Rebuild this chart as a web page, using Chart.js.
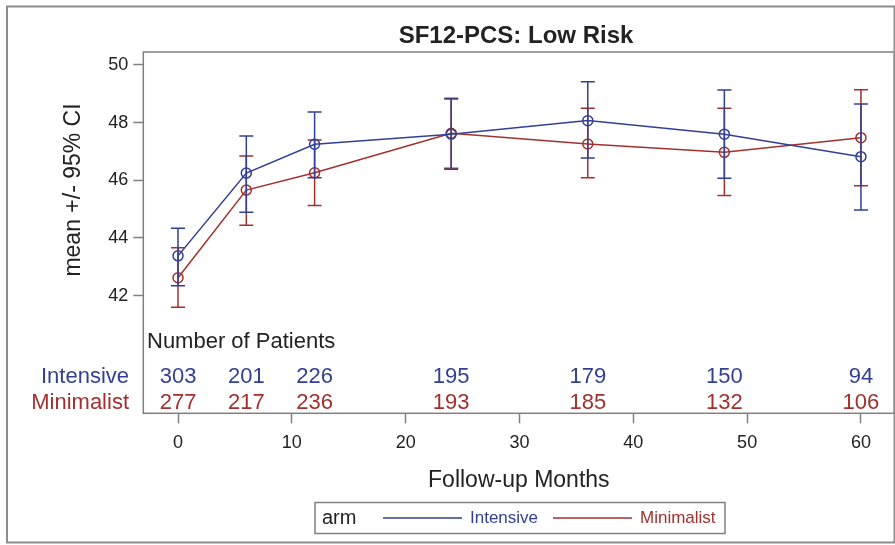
<!DOCTYPE html>
<html>
<head>
<meta charset="utf-8">
<script src="https://cdn.jsdelivr.net/npm/chart.js@4.4.0/dist/chart.umd.min.js"></script>
<style>
  body { margin: 0; background: #fff; }
  canvas { display: block; }
</style>
</head>
<body>
<canvas id="chart" width="895" height="545"></canvas>
<script>
// Follow-up months and the values
var months = [0, 6, 12, 24, 36, 48, 60];
var intensiveMean = [43.38, 46.25, 47.25, 47.6, 48.07, 47.6, 46.82];
var intensiveLower = [42.34, 44.89, 46.09, 46.38, 46.77, 46.07, 44.97];
var intensiveUpper = [44.34, 47.54, 48.37, 48.82, 49.42, 49.13, 48.65];
var minimalistMean = [42.62, 45.66, 46.26, 47.63, 47.26, 46.97, 47.48];
var minimalistLower = [41.6, 44.44, 45.13, 46.42, 46.09, 45.47, 45.81];
var minimalistUpper = [43.66, 46.84, 47.4, 48.85, 48.5, 48.5, 49.14];
var intensiveN = [303, 201, 226, 195, 179, 150, 94];
var minimalistN = [277, 217, 236, 193, 185, 132, 106];
var xTicks = [0, 10, 20, 30, 40, 50, 60];
var yTicks = [42, 44, 46, 48, 50];

var blue = "#323f96";
var red = "#a2302e";
var frameColor = "#808080";
var textColor = "#222222";

Chart.defaults.font.family = "'Liberation Sans', Arial, sans-serif";

function toPoints(xs, ys) {
  var pts = [];
  for (var i = 0; i < xs.length; i++) {
    pts.push({ x: xs[i], y: ys[i] });
  }
  return pts;
}

var lowers = [intensiveLower, minimalistLower];
var uppers = [intensiveUpper, minimalistUpper];
var counts = [intensiveN, minimalistN];

// Error bars drawn under each dataset's line
var errorBars = {
  id: "errorBars",
  beforeDatasetDraw: function (chart, args) {
    var i = args.index;
    var ds = chart.data.datasets[i];
    var xs = chart.scales.x;
    var ys = chart.scales.y;
    var ctx = chart.ctx;
    ctx.save();
    ctx.strokeStyle = ds.borderColor;
    ctx.lineWidth = 1.5;
    for (var j = 0; j < months.length; j++) {
      var px = xs.getPixelForValue(months[j]);
      var lo = ys.getPixelForValue(lowers[i][j]);
      var hi = ys.getPixelForValue(uppers[i][j]);
      ctx.beginPath();
      ctx.moveTo(px, lo);
      ctx.lineTo(px, hi);
      ctx.moveTo(px - 7, lo);
      ctx.lineTo(px + 7, lo);
      ctx.moveTo(px - 7, hi);
      ctx.lineTo(px + 7, hi);
      ctx.stroke();
    }
    ctx.restore();
  }
};

// Frame, titles, patient table and legend
var decorations = {
  id: "decorations",
  afterDraw: function (chart) {
    var ctx = chart.ctx;
    var area = chart.chartArea;
    var xs = chart.scales.x;
    var datasets = chart.data.datasets;
    ctx.save();

    // plot frame
    ctx.strokeStyle = frameColor;
    ctx.lineWidth = 1.5;
    ctx.strokeRect(area.left, area.top, area.right - area.left, area.bottom - area.top);

    // outer border
    ctx.lineWidth = 2;
    ctx.strokeStyle = "#8c8c8c";
    ctx.strokeRect(7, 6.5, 887.5, 536);

    // title
    ctx.fillStyle = textColor;
    ctx.font = "bold 24px 'Liberation Sans', Arial, sans-serif";
    ctx.textAlign = "center";
    ctx.textBaseline = "alphabetic";
    ctx.fillText("SF12-PCS: Low Risk", 516, 42.5);

    // y axis title
    ctx.save();
    ctx.translate(74, 190);
    ctx.rotate(-Math.PI / 2);
    ctx.font = "23px 'Liberation Sans', Arial, sans-serif";
    ctx.textBaseline = "middle";
    ctx.fillText("mean +/- 95% CI", 0, 0);
    ctx.restore();

    // patient counts
    ctx.font = "22px 'Liberation Sans', Arial, sans-serif";
    ctx.textAlign = "left";
    ctx.fillStyle = textColor;
    ctx.fillText("Number of Patients", 147, 348);
    var rowY = [382.5, 408.5];
    for (var i = 0; i < datasets.length; i++) {
      ctx.fillStyle = datasets[i].borderColor;
      ctx.textAlign = "right";
      ctx.fillText(datasets[i].label, 129, rowY[i]);
      ctx.textAlign = "center";
      for (var j = 0; j < months.length; j++) {
        ctx.fillText(String(counts[i][j]), xs.getPixelForValue(months[j]), rowY[i]);
      }
    }

    // legend
    ctx.strokeStyle = frameColor;
    ctx.lineWidth = 1.5;
    ctx.strokeRect(315, 502.5, 410, 31);
    ctx.textAlign = "left";
    ctx.textBaseline = "middle";
    ctx.fillStyle = textColor;
    ctx.font = "20px 'Liberation Sans', Arial, sans-serif";
    ctx.fillText("arm", 322, 518);
    ctx.font = "17px 'Liberation Sans', Arial, sans-serif";
    var lx = [383, 553];
    for (var k = 0; k < datasets.length; k++) {
      ctx.strokeStyle = datasets[k].borderColor;
      ctx.lineWidth = 1.5;
      ctx.beginPath();
      ctx.moveTo(lx[k], 518);
      ctx.lineTo(lx[k] + 79, 518);
      ctx.stroke();
      ctx.fillStyle = datasets[k].borderColor;
      ctx.fillText(datasets[k].label, lx[k] + 87, 518);
    }
    ctx.restore();
  }
};

var ctx = document.getElementById("chart").getContext("2d");
var chart = new Chart(ctx, {
  type: "line",
  data: {
    datasets: [
      {
        label: "Intensive",
        data: toPoints(months, intensiveMean),
        borderColor: blue,
        borderWidth: 1.5,
        pointRadius: 5,
        pointBorderWidth: 1.5,
        pointBorderColor: blue,
        pointBackgroundColor: "rgba(0,0,0,0)",
        fill: false,
        tension: 0
      },
      {
        label: "Minimalist",
        data: toPoints(months, minimalistMean),
        borderColor: red,
        borderWidth: 1.5,
        pointRadius: 5,
        pointBorderWidth: 1.5,
        pointBorderColor: red,
        pointBackgroundColor: "rgba(0,0,0,0)",
        fill: false,
        tension: 0
      }
    ]
  },
  options: {
    responsive: false,
    animation: false,
    layout: {
      autoPadding: false,
      padding: { left: 0, top: 52, right: 0.7, bottom: 0 }
    },
    plugins: {
      legend: { display: false },
      title: { display: false },
      tooltip: { enabled: false }
    },
    scales: {
      x: {
        type: "linear",
        min: -3.05,
        max: 62.93,
        afterBuildTicks: function (scale) {
          scale.ticks = xTicks.map(function (v) { return { value: v }; });
        },
        afterFit: function (scale) {
          scale.height = 131.7;
        },
        grid: {
          drawOnChartArea: false,
          tickLength: 10,
          tickColor: frameColor,
          tickWidth: 1.5
        },
        border: { display: false },
        ticks: {
          font: { size: 18 },
          color: textColor,
          padding: 9,
          maxRotation: 0
        },
        title: {
          display: true,
          text: "Follow-up Months",
          font: { size: 23 },
          color: textColor,
          padding: { top: 0, bottom: 51 }
        }
      },
      y: {
        min: 37.92,
        max: 50.45,
        afterBuildTicks: function (scale) {
          scale.ticks = yTicks.map(function (v) { return { value: v }; });
        },
        afterFit: function (scale) {
          scale.width = 143.3;
        },
        grid: {
          drawOnChartArea: false,
          tickLength: 10,
          tickColor: frameColor,
          tickWidth: 1.5
        },
        border: { display: false },
        ticks: {
          font: { size: 18 },
          color: textColor,
          padding: 5
        }
      }
    }
  },
  plugins: [errorBars, decorations]
});
</script>
</body>
</html>
